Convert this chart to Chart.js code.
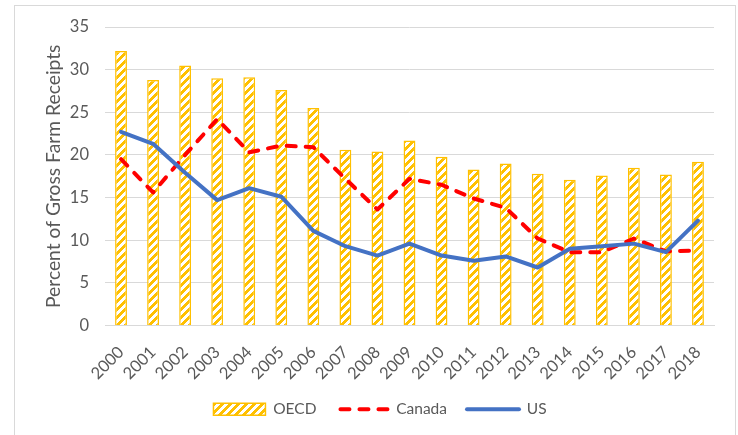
<!DOCTYPE html>
<html>
<head>
<meta charset="utf-8">
<script src="https://cdn.jsdelivr.net/npm/chart.js@4.4.1/dist/chart.umd.min.js"></script>
<style>
  html, body { margin: 0; padding: 0; background: #ffffff; }
  #wrap { width: 738px; height: 435px; position: relative; }
</style>
</head>
<body>
<div id="wrap"><canvas id="c" width="738" height="435"></canvas></div>
<script>
const years = ['2000','2001','2002','2003','2004','2005','2006','2007','2008','2009','2010','2011','2012','2013','2014','2015','2016','2017','2018'];
const oecd   = [32.2, 28.8, 30.5, 29.0, 29.1, 27.6, 25.5, 20.6, 20.4, 21.7, 19.8, 18.3, 19.0, 17.8, 17.1, 17.6, 18.5, 17.7, 19.2];
const canada = [19.5, 15.6, 20.0, 24.2, 20.3, 21.1, 20.9, 17.2, 13.6, 17.2, 16.5, 14.9, 13.8, 10.2, 8.6, 8.6, 10.2, 8.7, 8.8];
const us     = [22.7, 21.3, 17.9, 14.7, 16.1, 15.1, 11.1, 9.3, 8.2, 9.6, 8.2, 7.6, 8.1, 6.8, 9.0, 9.3, 9.6, 8.6, 12.3];
const yTicks = [0, 5, 10, 15, 20, 25, 30, 35];
const seriesNames = ['OECD', 'Canada', 'US'];
const yTitle = 'Percent of Gross Farm Receipts';

const ORANGE = '#FFC000', RED = '#FF0000', BLUE = '#4472C4', TXT = '#595959', GRID = '#D9D9D9';
const FONT = 'Lato, "Open Sans", sans-serif';

function makeHatch() {
  const p = document.createElement('canvas');
  p.width = 8; p.height = 8;
  const g = p.getContext('2d');
  const img = g.createImageData(8, 8);
  for (let y = 0; y < 8; y++) {
    for (let x = 0; x < 8; x++) {
      const i = (y * 8 + x) * 4;
      const on = ((x + y) % 8) < 4;
      img.data[i]   = 255;
      img.data[i+1] = on ? 192 : 255;
      img.data[i+2] = on ? 0 : 255;
      img.data[i+3] = 255;
    }
  }
  g.putImageData(img, 0, 0);
  return g.createPattern(p, 'repeat');
}
const ctx = document.getElementById('c').getContext('2d');
const hatch = makeHatch();

const frame = {
  id: 'frame',
  beforeDraw(chart) {
    const c = chart.ctx;
    c.save();
    c.fillStyle = '#ffffff';
    c.fillRect(0, 0, chart.width, chart.height);
    c.strokeStyle = GRID;
    c.lineWidth = 1;
    c.strokeRect(14.5, 5.5, 721, 440);
    c.restore();
  },
  afterLayout(chart) {
    const lg = chart.legend;
    if (lg) {
      lg.left += 13; lg.right += 13;
      lg.top -= 8; lg.bottom -= 8;
    }
  }
};

new Chart(ctx, {
  type: 'bar',
  data: {
    labels: years,
    datasets: [
      { type: 'bar', label: seriesNames[0], data: oecd, backgroundColor: hatch, borderColor: ORANGE, borderWidth: 1.5,
        barPercentage: 0.37, categoryPercentage: 1.0, order: 3 },
      { type: 'line', label: seriesNames[1], data: canada, borderColor: RED, backgroundColor: RED, borderWidth: 4,
        borderDash: [9, 10], borderCapStyle: 'round', borderJoinStyle: 'round', pointRadius: 0, tension: 0, order: 2 },
      { type: 'line', label: seriesNames[2], data: us, borderColor: BLUE, backgroundColor: BLUE, borderWidth: 4,
        borderCapStyle: 'round', borderJoinStyle: 'round', pointRadius: 0, tension: 0, order: 1 }
    ]
  },
  options: {
    responsive: false,
    animation: false,
    devicePixelRatio: 1,
    layout: { padding: { left: 20, right: 24, top: 27, bottom: 0 } },
    plugins: {
      tooltip: { enabled: false },
      legend: {
        position: 'bottom',
        labels: {
          font: { family: FONT, size: 15.5 },
          color: TXT,
          padding: 20,
          usePointStyle: true,
          pointStyleWidth: 52,
          boxHeight: 12,
          generateLabels(chart) {
            return [
              { text: seriesNames[0], fillStyle: hatch, strokeStyle: ORANGE, lineWidth: 1.5, pointStyle: 'rect', datasetIndex: 0, fontColor: TXT },
              { text: seriesNames[1], fillStyle: RED, strokeStyle: RED, lineWidth: 4, lineDash: [9, 10], lineCap: 'round', lineDashOffset: -4, pointStyle: 'line', datasetIndex: 1, fontColor: TXT },
              { text: seriesNames[2], fillStyle: BLUE, strokeStyle: BLUE, lineWidth: 4, lineCap: 'round', pointStyle: 'line', datasetIndex: 2, fontColor: TXT }
            ];
          }
        }
      }
    },
    scales: {
      x: {
        grid: { display: false },
        border: { display: true, color: GRID, width: 1 },
        ticks: { color: TXT, font: { family: FONT, size: 16.5 }, minRotation: 45, maxRotation: 45, padding: 9, autoSkip: false },
        afterFit(s) { s.height = 64; }
      },
      y: {
        min: 0, max: 35,
        afterBuildTicks(s) { s.ticks = yTicks.map(v => ({ value: v })); },
        grid: { color: GRID, lineWidth: 1, drawTicks: false },
        border: { display: false },
        ticks: { color: TXT, font: { family: FONT, size: 16.5 }, padding: 16 },
        title: { display: true, text: yTitle, color: TXT, font: { family: FONT, size: 19.3 }, padding: { top: 22, bottom: 0 } },
        afterFit(s) { s.width = 85; }
      }
    }
  },
  plugins: [frame]
});
</script>
</body>
</html>
